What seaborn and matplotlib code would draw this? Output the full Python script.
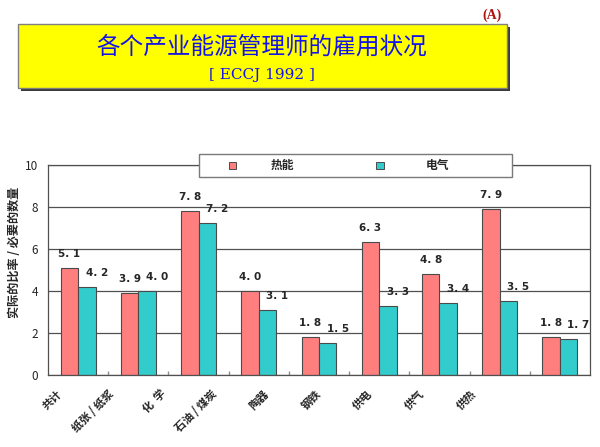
import matplotlib
matplotlib.use('Agg')
import matplotlib.pyplot as plt
import matplotlib.patches as mpatches
import numpy as np
import pandas as pd
import seaborn as sns

# ---- data ----
categories = ['共计', '纸张 / 纸浆', '化  学', '石油 / 煤炭', '陶器', '钢铁', '供电', '供气', '供热']
series_names = ['热能', '电气']
heat_values = [5.1, 3.9, 7.8, 4.0, 1.8, 6.3, 4.8, 7.9, 1.8]
elec_values = [4.2, 4.0, 7.2, 3.1, 1.5, 3.3, 3.4, 3.5, 1.7]
y_ticks = [0, 2, 4, 6, 8, 10]
title = '各个产业能源管理师的雇用状况'
subtitle = '[ ECCJ 1992 ]'
corner = '(A)'
y_label = '实际的比率 / 必要的数量'

colors = ['#FF7F7F', '#33CCCC']

sns.set_theme(style='white')
plt.rcParams['font.family'] = ['Noto Sans CJK SC', 'DejaVu Sans']

fig = plt.figure(figsize=(6, 4.47), dpi=100)
W, H = 600, 447

def fx(px):
    return px / W

def fy(py):
    return 1 - py / H

# ---- title box ----
bx0, bx1, by0, by1 = 18, 507, 24, 88
shadow = mpatches.Rectangle((fx(bx0 + 3), fy(by1 + 3)), fx(bx1) - fx(bx0), (by1 - by0) / H,
                            transform=fig.transFigure, facecolor='#3a3a3a', edgecolor='none', zorder=1)
box = mpatches.Rectangle((fx(bx0), fy(by1)), fx(bx1) - fx(bx0), (by1 - by0) / H,
                         transform=fig.transFigure, facecolor='#FFFF00', edgecolor='#7f7f7f',
                         linewidth=1, zorder=2)
fig.add_artist(shadow)
fig.add_artist(box)
fig.text(fx(262), fy(47), title, ha='center', va='center', fontsize=17, color='#1414E6', zorder=3)
fig.text(fx(262), fy(75), subtitle, ha='center', va='center', fontsize=11,
         family=['DejaVu Serif'], color='#1414E6', zorder=3)
fig.text(fx(492), fy(15), corner, ha='center', va='center', fontsize=10, fontweight='bold',
         family=['Liberation Serif'], color='#B01010')

# ---- bar chart ----
ax = fig.add_axes([fx(48), fy(375), fx(590) - fx(48), (375 - 164.5) / H])
df = pd.DataFrame({
    '产业': categories * 2,
    '类别': [series_names[0]] * len(categories) + [series_names[1]] * len(categories),
    '值': heat_values + elec_values,
})
sns.barplot(data=df, x='产业', y='值', hue='类别', hue_order=series_names, palette=colors,
            saturation=1, width=0.58, gap=0, edgecolor='#4a4a4a', linewidth=0.8,
            ax=ax, legend=False, errorbar=None)

ax.set_xlim(-0.5, len(categories) - 0.5)
ax.set_ylim(0, 10)
ax.set_yticks(y_ticks)
ax.yaxis.grid(True, color='#505050', linewidth=0.9)
ax.set_axisbelow(True)
for s in ax.spines.values():
    s.set_visible(True)
    s.set_color('#505050')
    s.set_linewidth(0.9)
ax.set_xlabel('')
ax.set_ylabel('')
ax.tick_params(axis='y', length=0, pad=7, labelsize=8.5)

# value labels
for k, cont in enumerate(ax.containers):
    dx = 0 if k == 0 else 10
    for bar in cont:
        h = bar.get_height()
        ax.annotate(f'{h:.1f}'.replace('.', '. '), (bar.get_x() + bar.get_width() / 2, h),
                    xytext=(dx, 14), textcoords='offset pixels', ha='center', va='center',
                    fontsize=7.5, fontweight='bold', family=['DejaVu Sans'])

# x tick labels (reference layout drifts left)
n = len(categories)
label_pos = -0.30 + 0.86 * np.arange(n)
ax.set_xticks(label_pos)
ax.set_xticklabels(categories, rotation=45, ha='right', va='center', rotation_mode='anchor',
                   fontsize=8, fontweight='bold')
ax.tick_params(axis='x', which='major', length=0, pad=12)
ax.set_xticks(np.arange(n - 1) + 0.5, minor=True)
ax.tick_params(axis='x', which='minor', direction='in', length=3, color='#909090', bottom=True)

# y label
fig.text(fx(15), fy(252), y_label, rotation=90, ha='center', va='center', fontsize=8.7, fontweight='bold')

# ---- legend box ----
lx0, lx1, ly0, ly1 = 199, 512, 154, 177
leg = mpatches.Rectangle((fx(lx0), fy(ly1)), fx(lx1) - fx(lx0), (ly1 - ly0) / H,
                         transform=fig.transFigure, facecolor='white', edgecolor='#7a7a7a',
                         linewidth=1, zorder=5)
fig.add_artist(leg)
for name, col, mx, tx in zip(series_names, colors, [232, 380], [282, 437]):
    sq = mpatches.Rectangle((fx(mx - 3.5), fy(ly0 + 11.5 + 3.5)), 7 / W, 7 / H,
                            transform=fig.transFigure, facecolor=col, edgecolor='#4a4a4a',
                            linewidth=0.7, zorder=6)
    fig.add_artist(sq)
    fig.text(fx(tx), fy(ly0 + 11.5), name, ha='center', va='center', fontsize=8.5,
             fontweight='bold', zorder=6)

fig.savefig('out.png', dpi=100)
